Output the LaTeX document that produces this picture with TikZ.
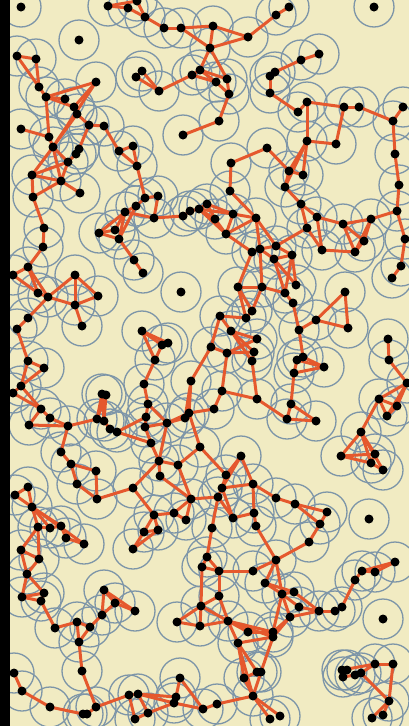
\documentclass[tikz,border=0pt]{standalone}
\usepackage{tikz}
\definecolor{bg}{HTML}{F1EBC2}
\definecolor{ring}{HTML}{7D95A8}
\definecolor{edgec}{HTML}{E5582D}
\tikzset{
  ringst/.style={draw=ring,line width=1.3pt},
  edgest/.style={draw=edgec,line width=3pt,line cap=round},
  dotst/.style={fill=black}
}
\def\pts{21/7,108/6,128/8,137/1,145/17,164/28,181/28,210/48,79/40,17/56,36/59,39/87,46/97,65/99,96/82,74/107,77/114,89/125,104/126,21/129,49/137,53/147,79/149,76/154,68/162,119/151,133/146,137/166,32/175,61/181,142/71,136/77,159/91,183/135,192/75,200/70,
289/7,276/15,374/7,213/26,248/37,216/82,227/79,229/94,219/121,270/76,275/72,270/93,301/60,319/54,298/112,307/102,344/107,359/107,393/121,403/107,307/141,336/144,395/154,399/185,267/148,231/163,289/171,303/175,285/187,230/191,
80/193,33/197,44/228,43/247,28/267,13/275,38/293,48/297,75/275,98/296,75/305,82/326,28/318,17/329,28/361,44/368,145/198,158/196,136/206,125/212,154/218,115/230,99/233,119/239,134/260,143/273,183/216,190/211,199/209,207/204,181/292,142/331,162/345,168/343,155/360,
301/204,317/217,307/228,343/224,371/219,397/211,405/239,364/241,355/252,322/250,401/266,392/278,215/219,233/214,226/234,256/218,276/246,260/249,252/252,274/259,292/255,238/287,262/287,296/285,285/293,293/303,345/292,252/311,246/318,220/316,231/331,257/339,211/347,227/353,254/352,252/361,316/320,299/330,348/328,388/339,389/360,303/357,297/360,324/367,
21/386,13/393,41/409,50/418,29/425,68/426,61/452,71/464,96/471,77/484,97/499,133/488,102/394,106/395,97/419,104/421,110/429,117/432,144/384,148/404,146/417,145/427,151/443,167/423,191/381,189/413,185/418,200/447,159/461,160/476,178/465,191/499,174/513,154/515,186/520,144/532,158/530,133/549,28/487,15/495,32/507,38/527,50/528,61/526,66/538,84/544,21/550,
294/373,222/391,257/399,214/409,291/404,287/419,316/421,407/383,379/399,397/406,387/416,361/432,341/456,375/454,371/463,383/470,369/519,241/456,226/475,222/488,253/484,218/497,276/498,295/504,327/512,320/524,309/542,254/513,233/518,256/526,212/528,
39/559,27/574,22/597,44/593,41/601,55/628,77/622,90/627,79/642,82/671,96/707,83/714,87/714,50/707,22/691,14/673,104/590,115/603,102/615,135/611,202/567,201/606,177/622,200/626,129/695,138/694,148/713,135/719,180/678,176/697,174/703,203/709,
207/557,219/571,253/571,276/560,265/583,282/594,294/592,299/607,290/617,319/611,335/611,342/607,355/580,362/571,375/572,395/562,383/619,219/596,228/621,248/632,273/632,273/637,238/643,244/678,257/672,261/672,253/696,270/719,280/716,217/704,342/670,347/670,343/677,355/675,361/673,375/664,393/664,389/701,383/715,372/718}
\def\edgs{108q6/128q8,108q6/137q1,128q8/145q17,137q1/145q17,145q17/164q28,164q28/181q28,181q28/210q48,181q28/213q26,17q56/36q59,17q56/39q87,36q59/39q87,39q87/46q97,46q97/65q99,46q97/96q82,96q82/74q107,96q82/53q147,46q97/74q107,74q107/77q114,77q114/89q125,89q125/104q126,46q97/49q137,21q129/49q137,49q137/53q147,53q147/77q114,53q147/68q162,53q147/32q175,53q147/61q181,89q125/79q149,79q149/76q154,76q154/68q162,68q162/32q175,68q162/61q181,32q175/61q181,104q126/119q151,119q151/137q166,119q151/133q146,133q146/137q166,137q166/145q198,142q71/136q77,142q71/159q91,136q77/159q91,159q91/192q75,192q75/200q70,183q135/219q121,
289q7/276q15,276q15/248q37,248q37/213q26,213q26/210q48,210q48/248q37,210q48/200q70,210q48/227q79,200q70/216q82,200q70/227q79,192q75/216q82,216q82/229q94,227q79/229q94,229q94/219q121,270q76/275q72,270q76/270q93,275q72/301q60,301q60/319q54,270q93/298q112,298q112/307q102,307q102/344q107,344q107/359q107,359q107/393q121,393q121/403q107,393q121/395q154,395q154/399q185,344q107/336q144,336q144/307q141,307q141/307q102,307q141/289q171,307q141/303q175,307q141/285q187,267q148/289q171,267q148/231q163,231q163/230q191,289q171/303q175,289q171/285q187,
61q181/80q193,61q181/33q197,32q175/33q197,33q197/44q228,44q228/43q247,43q247/28q267,28q267/13q275,28q267/38q293,13q275/38q293,28q267/48q297,38q293/48q297,48q297/75q275,75q275/75q305,75q275/98q296,48q297/75q305,75q305/98q296,75q305/82q326,48q297/28q318,28q318/17q329,17q329/28q361,28q361/44q368,145q198/158q196,145q198/136q206,136q206/125q212,125q212/99q233,125q212/115q230,99q233/115q230,99q233/119q239,125q212/119q239,136q206/119q239,158q196/154q218,125q212/154q218,154q218/183q216,183q216/190q211,190q211/199q209,199q209/207q204,119q239/134q260,134q260/143q273,142q331/162q345,142q331/168q343,142q331/155q360,162q345/168q343,162q345/155q360,
285q187/301q204,301q204/317q217,301q204/307q228,317q217/343q224,343q224/371q219,371q219/397q211,397q211/399q185,397q211/405q239,405q239/401q266,401q266/392q278,343q224/364q241,343q224/355q252,371q219/364q241,371q219/355q252,364q241/355q252,355q252/322q250,322q250/317q217,307q228/276q246,307q228/322q250,276q246/260q249,260q249/252q252,252q252/226q234,226q234/215q219,215q219/207q204,207q204/233q214,233q214/226q234,233q214/256q218,226q234/256q218,256q218/260q249,199q209/233q214,256q218/230q191,256q218/276q246,199q209/215q219,199q209/226q234,252q252/238q287,260q249/274q259,260q249/262q287,274q259/292q255,276q246/292q255,274q259/285q293,274q259/296q285,292q255/296q285,292q255/285q293,238q287/262q287,262q287/285q293,238q287/252q311,238q287/246q318,252q311/246q318,262q287/252q311,246q318/220q316,220q316/211q347,220q316/231q331,231q331/257q339,231q331/254q352,231q331/252q361,227q353/254q352,227q353/257q339,254q352/252q361,211q347/227q353,285q293/293q303,293q303/299q330,299q330/316q320,316q320/345q292,316q320/348q328,345q292/348q328,388q339/389q360,303q357/297q360,303q357/324q367,299q330/303q357,
28q361/21q386,44q368/21q386,21q386/13q393,13q393/41q409,21q386/41q409,41q409/50q418,41q409/29q425,29q425/68q426,50q418/68q426,68q426/97q419,97q419/102q394,97q419/106q395,102q394/106q395,104q421/102q394,104q421/106q395,97q419/104q421,104q421/110q429,110q429/117q432,117q432/146q417,117q432/151q443,68q426/61q452,61q452/71q464,71q464/96q471,71q464/77q484,96q471/97q499,77q484/97q499,97q499/133q488,133q488/159q461,133q488/154q515,155q360/144q384,144q384/148q404,148q404/146q417,146q417/145q427,148q404/167q423,145q427/167q423,167q423/189q413,189q413/191q381,185q418/191q381,167q423/185q418,167q423/159q461,145q427/151q443,151q443/159q461,159q461/160q476,159q461/178q465,178q465/200q447,189q413/200q447,178q465/191q499,160q476/191q499,191q499/174q513,174q513/154q515,154q515/144q532,158q530/154q515,174q513/186q520,191q499/186q520,144q532/133q549,158q530/133q549,144q532/158q530,28q487/15q495,28q487/32q507,15q495/32q507,32q507/38q527,32q507/50q528,32q507/61q526,38q527/50q528,50q528/61q526,61q526/66q538,66q538/84q544,32q507/84q544,38q527/21q550,38q527/39q559,191q381/211q347,189q413/214q409,
227q353/222q391,252q361/257q399,222q391/257q399,222q391/214q409,257q399/287q419,287q419/291q404,291q404/294q373,294q373/297q360,294q373/324q367,297q360/324q367,287q419/316q421,291q404/316q421,389q360/407q383,407q383/379q399,407q383/397q406,407q383/387q416,379q399/397q406,379q399/387q416,397q406/387q416,379q399/361q432,361q432/341q456,361q432/375q454,361q432/371q463,361q432/383q470,341q456/375q454,341q456/371q463,375q454/371q463,371q463/383q470,200q447/226q475,241q456/226q475,241q456/222q488,241q456/253q484,226q475/222q488,222q488/253q484,222q488/218q497,218q497/212q528,222q488/233q518,253q484/276q498,253q484/254q513,276q498/295q504,295q504/327q512,295q504/320q524,327q512/320q524,320q524/309q542,254q513/233q518,254q513/256q526,233q518/218q497,218q497/191q499,212q528/207q557,256q526/276q560,276q560/309q542,
21q550/39q559,21q550/27q574,39q559/27q574,27q574/22q597,27q574/44q593,22q597/44q593,22q597/41q601,44q593/41q601,41q601/55q628,55q628/77q622,77q622/90q627,77q622/79q642,90q627/79q642,90q627/102q615,102q615/104q590,104q590/115q603,104q590/135q611,115q603/135q611,115q603/102q615,79q642/82q671,82q671/96q707,96q707/87q714,83q714/87q714,83q714/50q707,50q707/22q691,22q691/14q673,96q707/129q695,129q695/138q694,129q695/135q719,138q694/148q713,138q694/176q697,138q694/174q703,148q713/174q703,148q713/135q719,176q697/180q678,180q678/203q709,176q697/174q703,174q703/203q709,202q567/201q606,201q606/177q622,201q606/200q626,177q622/200q626,
276q560/253q571,253q571/219q571,276q560/265q583,276q560/282q594,265q583/282q594,265q583/294q592,282q594/294q592,282q594/299q607,282q594/273q632,282q594/290q617,299q607/319q611,294q592/319q611,290q617/319q611,319q611/335q611,335q611/342q607,342q607/355q580,355q580/362q571,362q571/375q572,362q571/395q562,375q572/395q562,290q617/273q632,290q617/273q637,207q557/202q567,207q557/219q571,202q567/219q571,219q571/219q596,219q596/201q606,219q596/228q621,201q606/228q621,200q626/228q621,228q621/248q632,228q621/273q632,248q632/273q632,228q621/273q637,228q621/238q643,238q643/273q637,238q643/244q678,238q643/257q672,238q643/253q696,244q678/257q672,257q672/261q672,244q678/253q696,261q672/253q696,273q637/261q672,253q696/270q719,253q696/280q716,253q696/217q704,217q704/203q709,342q670/375q664,343q677/355q675,355q675/361q673,361q673/375q664,375q664/393q664,393q664/389q701,361q673/389q701,389q701/383q715,389q701/372q718,347q670/342q670}
\begin{document}
\begin{tikzpicture}[x=1pt,y=-1pt]
\fill[bg] (0,0) rectangle (409,726);
\useasboundingbox (0,0) rectangle (409,726);
\begin{scope}
\clip (0,0) rectangle (409,726);
\foreach \x/\y in \pts {
  \coordinate (p\x q\y) at (\x,\y);
  \draw[ringst] (p\x q\y) circle (20);
}
\foreach \a/\b in \edgs {
  \draw[edgest] (p\a) -- (p\b);
}
\foreach \x/\y in \pts {
  \fill[dotst] (p\x q\y) circle (4.5);
}
\end{scope}
\fill[black] (0,0) rectangle (9.5,726);
\end{tikzpicture}
\end{document}
